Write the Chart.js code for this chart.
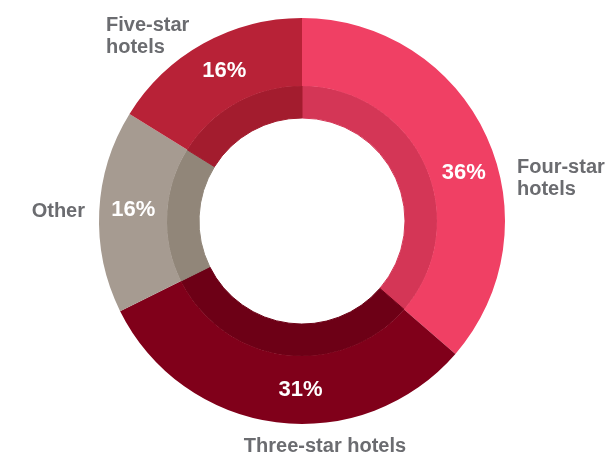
<!DOCTYPE html>
<html>
<head>
<meta charset="utf-8">
<script src="https://cdn.jsdelivr.net/npm/chart.js@4/dist/chart.umd.min.js"></script>
<style>
	html, body { margin: 0; padding: 0; background: #fff; }
	#wrap { width: 609px; height: 454px; position: relative; }
</style>
</head>
<body>
<div id="wrap"><canvas id="chart"></canvas></div>
<script>
// hotel categories, going clockwise from the top
const categories = ['Four-star hotels', 'Three-star hotels', 'Other', 'Five-star hotels'];
const shares = [36, 31, 16, 16];

const outerColors = ['#f04064', '#80001a', '#a69b91', '#b82237'];
const innerColors = ['#d43656', '#6d0016', '#918679', '#a31c2e'];

// where along each slice the percentage sits (0 = start, 1 = end)
const pctAlong = [0.56, 0.44, 0.52, 0.53];

// category names outside the ring: lines, offset from centre, alignment
const outerLabels = [
	{ lines: ['Four-star', 'hotels'], dx: 215, dy: -48, align: 'left' },
	{ lines: ['Three-star hotels'], dx: 23, dy: 231, align: 'center' },
	{ lines: ['Other'], dx: -217, dy: -4, align: 'right' },
	{ lines: ['Five-star', 'hotels'], dx: -196, dy: -190, align: 'left' }
];

const FONT = '"Liberation Sans", Arial, Helvetica, sans-serif';

const labelPlugin = {
	id: 'sliceLabels',
	afterDatasetsDraw(chart) {
		const ctx = chart.ctx;
		const meta = chart.getDatasetMeta(0);
		ctx.save();
		meta.data.forEach((arc, i) => {
			const p = arc.getProps(['x', 'y', 'startAngle', 'endAngle', 'innerRadius', 'outerRadius'], true);
			const a = p.startAngle + (p.endAngle - p.startAngle) * pctAlong[i];
			const r = (p.innerRadius + p.outerRadius) / 2;
			ctx.font = 'bold 22px ' + FONT;
			ctx.fillStyle = '#ffffff';
			ctx.textAlign = 'center';
			ctx.textBaseline = 'middle';
			ctx.fillText(shares[i] + '%', p.x + Math.cos(a) * r, p.y + Math.sin(a) * r);

			const lab = outerLabels[i];
			ctx.font = 'bold 20px ' + FONT;
			ctx.fillStyle = '#6b6c70';
			ctx.textAlign = lab.align;
			ctx.textBaseline = 'alphabetic';
			lab.lines.forEach((line, k) => {
				ctx.fillText(line, p.x + lab.dx, p.y + lab.dy + k * 22);
			});
		});
		ctx.restore();
	}
};

new Chart(document.getElementById('chart'), {
	type: 'doughnut',
	data: {
		labels: categories,
		datasets: [
			{ data: shares, backgroundColor: outerColors, borderWidth: 0, weight: 68 },
			// thin same-colour border closes the anti-aliasing seam between rings
			{ data: shares, backgroundColor: innerColors, borderColor: innerColors, borderWidth: 1, weight: 32 }
		]
	},
	options: {
		responsive: true,
		maintainAspectRatio: false,
		animation: false,
		events: [],
		cutout: 103,
		layout: {
			padding: { top: 18, bottom: 30, left: 99, right: 104 }
		},
		plugins: {
			legend: { display: false },
			tooltip: { enabled: false }
		}
	},
	plugins: [labelPlugin]
});
</script>
</body>
</html>
